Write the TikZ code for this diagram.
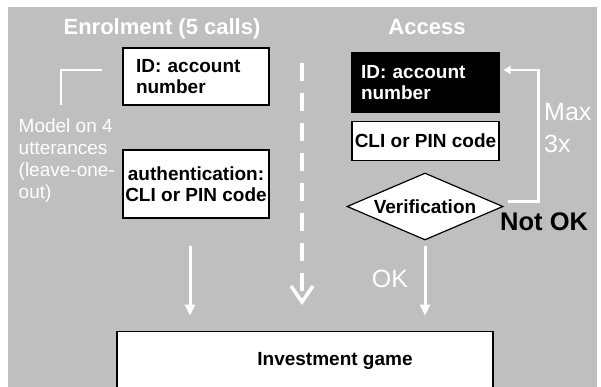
\documentclass[tikz,border=0pt]{standalone}
\usepackage{fontspec}
\setmainfont{Liberation Sans}
\usetikzlibrary{shapes.geometric,arrows.meta}
\definecolor{slidegray}{RGB}{191,191,191}

\begin{document}
\begin{tikzpicture}[x=1pt, y=-1pt,
    boxtext/.style={font=\fontsize{19}{21}\selectfont\bfseries},
    whitebox/.style={draw=black, fill=white, line width=1.2pt, inner sep=0pt, boxtext},
    blackbox/.style={draw=black, fill=black, text=white, line width=1.2pt, inner sep=0pt, boxtext},
    heading/.style={text=white, font=\fontsize{22}{26}\selectfont\bfseries, inner sep=0pt},
    note/.style={text=white, inner sep=0pt, align=left},
    wline/.style={draw=white, line width=2.5pt},
    warrow/.style={wline, line width=3pt, -{Triangle[length=11pt,width=10pt]}},
    divider/.style={draw=white, line width=3.5pt, dash pattern=on 18pt off 12pt,
                    -{Straight Barb[length=16pt,width=22pt]}},
  ]
            % Slide background
            \fill[white] (0,0) rectangle (601,387);
            \useasboundingbox (0,0) rectangle (601,387);
            \clip (0,0) rectangle (601,387);
            \fill[slidegray] (8,7) rectangle (597,400);
            % Enrolment
            \node[heading, anchor=base] (enroltitle) at (162,35) {Enrolment (5 calls)};
            \node[whitebox, minimum width=146, minimum height=57, text width=120, align=left] (enrolid) at (196,76.5) {ID: account\\number};
            \node[whitebox, minimum width=146, minimum height=68, align=center] (enrolauth) at (196,184) {authentication:\\CLI or PIN code};
            \node[note, anchor=north west, font=\fontsize{19}{22}\selectfont] (model) at (18.5,119) {Model on 4\\utterances\\(leave-one-\\out)};
            \draw[wline] (61,105) |- (102,70);
            % Access
            \node[heading, anchor=base] (accesstitle) at (427,35) {Access};
            \node[blackbox, minimum width=147, minimum height=59, text width=129, align=left] (accessid) at (425.5,82.5) {ID: account\\number};
            \node[whitebox, minimum width=147, minimum height=39] (accesscli) at (425.5,141) {CLI or PIN code};
            \node[whitebox, diamond, aspect=2.33, minimum width=156, minimum height=67] (verif) at (425,206.5) {Verification};
            \node[anchor=base west, inner sep=0pt, font=\fontsize{25.5}{30}\selectfont\bfseries] (notok) at (500,230) {Not OK};
            \node[note, anchor=north west, font=\fontsize{25}{31.6}\selectfont] (maxtries) at (544,103.5) {Max\\3x};
            \node[note, anchor=base, font=\fontsize{25}{30}\selectfont] (ok) at (390,287) {OK};
            % Investment game
            \node[whitebox, minimum width=376, minimum height=70, anchor=north] (game) at (305,331) {};
            \node[boxtext, anchor=base] (gametext) at (335,365) {Investment game};
            % Arrows
            \draw[warrow] ([xshift=-6pt,yshift=-27pt]enrolauth.south) -- ++(0,70);
            \draw[warrow] ([yshift=-5pt]verif.south) -- ++(0,70);
            \coordinate (divtop) at (302,63);
            \coordinate (divbot) at (302,305);
            \draw[divider] (divtop) -- (divbot);
            \draw[wline, -{Triangle[length=7pt,width=8pt]}] ([xshift=4pt,yshift=5pt]verif.east) -- ++(31,0) |- ([xshift=4pt,yshift=12.5pt]accessid.east);
        \end{tikzpicture}
\end{document}
